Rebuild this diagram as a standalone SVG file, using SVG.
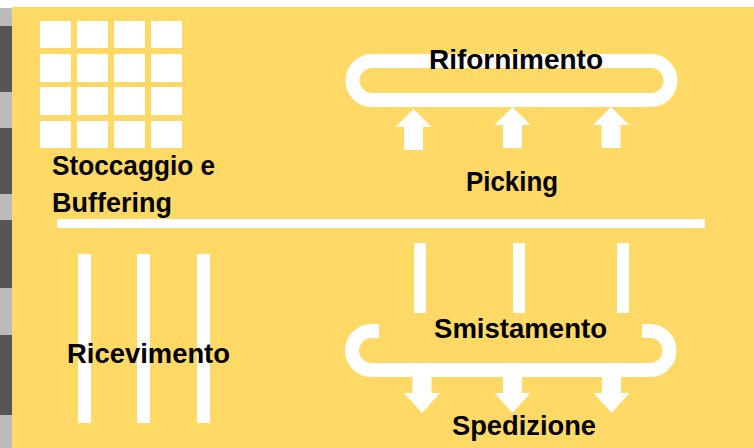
<svg xmlns="http://www.w3.org/2000/svg" width="754" height="448" viewBox="0 0 754 448">
<style>
.lbl{font-family:"Liberation Sans",Arial,sans-serif;font-weight:bold;font-size:28px;fill:#000}
.w{fill:#fff}
.loop{fill:none;stroke:#fff;stroke-width:14}
.dk{fill:#555}
.lt{fill:#bbb}
</style>
<defs>
<path id="upArrow" d="M0 0 L18 18 L9.5 18 L9.5 41 L-9.5 41 L-9.5 18 L-18 18 Z" fill="#fff"/>
<path id="downArrow" d="M-9.5 0 L9.5 0 L9.5 16 L18 16 L0 36 L-18 16 L-9.5 16 Z" fill="#fff"/>
</defs>
<rect width="754" height="448" fill="#fff"/>
<g id="backdrop">
<rect x="0" y="8" width="12" height="440" class="lt"/>
<rect x="0" y="26" width="12" height="66" class="dk"/>
<rect x="0" y="128" width="12" height="66" class="dk"/>
<rect x="0" y="220" width="12" height="68" class="dk"/>
<rect x="0" y="335" width="12" height="80" class="dk"/>
<rect x="12" y="7" width="742" height="441" fill="#FFD966"/>
</g>
<g id="stoccaggio">
<g class="w">
<rect x="40" y="21" width="31" height="27"/><rect x="77" y="21" width="31" height="27"/><rect x="114" y="21" width="31" height="27"/><rect x="151" y="21" width="31" height="27"/>
<rect x="40" y="54" width="31" height="28"/><rect x="77" y="54" width="31" height="28"/><rect x="114" y="54" width="31" height="28"/><rect x="151" y="54" width="31" height="28"/>
<rect x="40" y="87" width="31" height="28"/><rect x="77" y="87" width="31" height="28"/><rect x="114" y="87" width="31" height="28"/><rect x="151" y="87" width="31" height="28"/>
<rect x="40" y="121" width="31" height="27"/><rect x="77" y="121" width="31" height="27"/><rect x="114" y="121" width="31" height="27"/><rect x="151" y="121" width="31" height="27"/>
</g>
<text class="lbl" x="52" y="175" textLength="163" lengthAdjust="spacingAndGlyphs">Stoccaggio e</text>
<text class="lbl" x="52" y="212" textLength="120" lengthAdjust="spacingAndGlyphs">Buffering</text>
</g>
<g id="connectors">
<rect x="57" y="219" width="648" height="9" class="w"/>
</g>
<g id="rifornimento">
<rect x="352.5" y="61" width="318" height="39" rx="19.5" ry="19.5" class="loop"/>
<text class="lbl" x="429" y="69" textLength="174" lengthAdjust="spacingAndGlyphs">Rifornimento</text>
</g>
<g id="picking">
<use href="#upArrow" x="413.5" y="109"/>
<use href="#upArrow" x="512.5" y="107"/>
<use href="#upArrow" x="611" y="107"/>
<text class="lbl" x="466" y="191" textLength="92" lengthAdjust="spacingAndGlyphs">Picking</text>
<rect x="414" y="243" width="12" height="70" class="w"/>
<rect x="513" y="243" width="12" height="70" class="w"/>
<rect x="617" y="243" width="12" height="70" class="w"/>
</g>
<g id="ricevimento">
<rect x="78" y="254" width="13" height="169" class="w"/>
<rect x="137" y="254" width="13" height="169" class="w"/>
<rect x="197" y="254" width="13" height="169" class="w"/>
<text class="lbl" x="67" y="363" textLength="163" lengthAdjust="spacingAndGlyphs">Ricevimento</text>
</g>
<g id="smistamento">
<path class="loop" d="M379 331 L371.5 331 A19.5 19.5 0 0 0 371.5 370 L650 370 A19.5 19.5 0 0 0 650 331 L642 331"/>
<text class="lbl" x="434" y="338" textLength="173" lengthAdjust="spacingAndGlyphs">Smistamento</text>
</g>
<g id="spedizione">
<use href="#downArrow" x="422" y="377"/>
<use href="#downArrow" x="512.5" y="377"/>
<use href="#downArrow" x="611.5" y="377"/>
<text class="lbl" x="452" y="435" textLength="144" lengthAdjust="spacingAndGlyphs">Spedizione</text>
</g>
</svg>
